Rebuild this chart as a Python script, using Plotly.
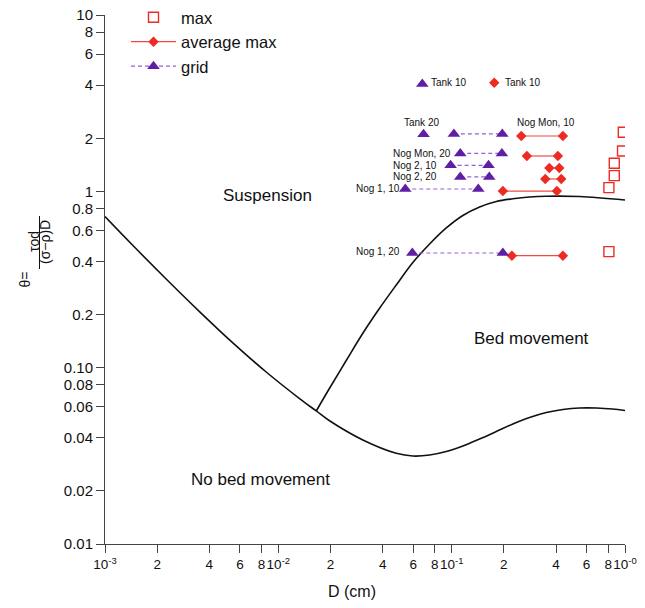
import plotly.graph_objects as go

# ---------------- data ----------------
# threshold-of-motion (Shields-type) curve
shields_D = [0.001, 0.001445, 0.002254, 0.003508, 0.005464, 0.008511, 0.01325, 0.01655,
             0.01974, 0.03073, 0.04789, 0.05972, 0.0746, 0.0931, 0.1160, 0.1449, 0.1809,
             0.2254, 0.2814, 0.3515, 0.4384, 0.547, 0.683, 0.848, 1.0]
shields_theta = [0.719, 0.4943, 0.3184, 0.2080, 0.1382, 0.0945, 0.0668, 0.0568,
                 0.0500, 0.0389, 0.0327, 0.03155, 0.03196, 0.03346, 0.03595, 0.0394, 0.04345,
                 0.04792, 0.05218, 0.0557, 0.05792, 0.05907, 0.05907, 0.0583, 0.05717]

# suspension threshold curve
susp_D = [0.01655, 0.01974, 0.02464, 0.03073, 0.03837, 0.04789, 0.05972, 0.0746, 0.0931,
          0.1160, 0.1449, 0.1809, 0.2254, 0.2814, 0.3515, 0.547, 1.0]
susp_theta = [0.0568, 0.0764, 0.1098, 0.1567, 0.2171, 0.2943, 0.3948, 0.5028, 0.6197,
              0.7295, 0.8151, 0.8758, 0.9072, 0.9288, 0.9384, 0.9348, 0.893]

rows = ["Tank 10", "Tank 20", "Nog Mon, 10", "Nog Mon, 20", "Nog 2, 10", "Nog 2, 20", "Nog 1, 10", "Nog 1, 20"]
grid_lo = [0.0677, 0.0688, 0.1030, 0.1121, 0.0986, 0.1121, 0.0540, 0.0593]
grid_hi = [None, None, 0.1959, 0.1949, 0.1632, 0.1648, 0.1424, 0.1974]
grid_theta = [4.06, 2.11, 2.115, 1.64, 1.405, 1.207, 1.031, 0.447]
avg_lo = [0.1761, None, 0.2521, 0.2716, 0.3659, 0.3468, 0.1974, 0.2225]
avg_hi = [None, None, 0.4384, 0.410, 0.4177, 0.4288, 0.4046, 0.4384]
avg_theta = [4.13, None, 2.06, 1.586, 1.357, 1.175, 1.004, 0.4315]
max_D = [None, None, 0.978, 0.968, 0.8673, 0.8673, 0.8074, 0.8074]
max_theta = [None, None, 2.161, 1.693, 1.442, 1.227, 1.049, 0.4548]

x_tickvals = [0.001, 0.002, 0.004, 0.006, 0.008, 0.01, 0.02, 0.04, 0.06, 0.08, 0.1, 0.2, 0.4, 0.6, 0.8, 1.0]
x_ticktext = ["10<sup>-3</sup>", "2", "4", "6", "8", "10<sup>-2</sup>", "2", "4", "6", "8",
              "10<sup>-1</sup>", "2", "4", "6", "8", "10<sup>-0</sup>"]
y_tickvals = [0.01, 0.02, 0.04, 0.06, 0.08, 0.1, 0.2, 0.4, 0.6, 0.8, 1, 2, 4, 6, 8, 10]
y_ticktext = ["0.01", "0.02", "0.04", "0.06", "0.08", "0.10", "0.2", "0.4", "0.6", "0.8",
              "1", "2", "4", "6", "8", "10"]

# ---------------- layout helpers ----------------
W, H = 645, 608
ML, MR, MT, MB = 105, 20, 15, 64
PW, PH = W - ML - MR, H - MT - MB


def paper(px, py):
    return (px - ML) / PW, (H - MB - py) / PH


def segments(lo, hi, th):
    xs, ys = [], []
    for a, b, t in zip(lo, hi, th):
        if a is None:
            continue
        xs.append(a)
        ys.append(t)
        if b is not None:
            xs.append(b)
            ys.append(t)
        xs.append(None)
        ys.append(None)
    return xs, ys


FONT = "Liberation Sans, Arial, Helvetica, sans-serif"
RED = "#ee2b23"
RED_LINE = "#f04a44"
PURPLE = "#5f1ea3"
PURPLE_LINE = "#9462d6"

fig = go.Figure()

fig.add_trace(go.Scatter(x=shields_D, y=shields_theta, mode="lines", showlegend=False,
                         line=dict(color="#111111", width=1.6, shape="spline", smoothing=1.0),
                         hoverinfo="skip"))
fig.add_trace(go.Scatter(x=susp_D, y=susp_theta, mode="lines", showlegend=False,
                         line=dict(color="#111111", width=1.6, shape="spline", smoothing=1.0),
                         hoverinfo="skip"))

mx, my = segments(max_D, [None] * len(max_D), max_theta)
fig.add_trace(go.Scatter(x=mx, y=my, mode="markers", name="max", legendgroup="a",
                         marker=dict(symbol="square-open", size=10, color=RED, line=dict(width=1.4, color=RED))))
ax, ay = segments(avg_lo, avg_hi, avg_theta)
fig.add_trace(go.Scatter(x=ax, y=ay, mode="lines+markers", name="average max", legendgroup="b",
                         line=dict(color=RED_LINE, width=1.2),
                         marker=dict(symbol="diamond", size=8, color=RED)))
gx, gy = segments(grid_lo, grid_hi, grid_theta)
fig.add_trace(go.Scatter(x=gx, y=gy, mode="lines+markers", name="grid", legendgroup="c",
                         line=dict(color=PURPLE_LINE, width=1.2, dash="4px,3px"),
                         marker=dict(symbol="triangle-up", size=11, color=PURPLE)))

annotations = []
# row labels (text, px, py, xanchor)
row_labels = [
    ("Tank 10", 428.5, 82.7, "left"),
    ("Tank 10", 502.5, 82.7, "left"),
    ("Tank 20", 421.7, 122.3, "center"),
    ("Nog Mon, 10", 546.0, 122.3, "center"),
    ("Nog Mon, 20", 390.7, 153.3, "left"),
    ("Nog 2, 10", 390.7, 166.0, "left"),
    ("Nog 2, 20", 390.7, 176.7, "left"),
    ("Nog 1, 10", 354.0, 188.3, "left"),
    ("Nog 1, 20", 354.0, 251.0, "left"),
]
for t, px, py, anc in row_labels:
    x, y = paper(px, py)
    annotations.append(dict(text=t, x=x, y=y, xref="paper", yref="paper", xanchor=anc, yanchor="middle",
                            showarrow=False, font=dict(family=FONT, size=10, color="#111111")))

region_labels = [("Suspension", 267, 195), ("Bed movement", 531, 338), ("No bed movement", 260.5, 479)]
for t, px, py in region_labels:
    x, y = paper(px, py)
    annotations.append(dict(text=t, x=x, y=y, xref="paper", yref="paper", xanchor="center", yanchor="middle",
                            showarrow=False, font=dict(family=FONT, size=17, color="#111111")))

# x-axis title
x, y = paper(352, 591)
annotations.append(dict(text="D (cm)", x=x, y=y, xref="paper", yref="paper", xanchor="center",
                        yanchor="middle", showarrow=False, font=dict(family=FONT, size=16, color="#111111")))

# y-axis title built as a rotated fraction
for t, px, py in [("θ=", 24.5, 280), ("τod", 34.0, 242), ("(σ−ρ)D", 45, 242)]:
    x, y = paper(px, py)
    annotations.append(dict(text=t, x=x, y=y, xref="paper", yref="paper", xanchor="center",
                            yanchor="middle", textangle=-90, showarrow=False,
                            font=dict(family=FONT, size=14, color="#111111")))
bx, by0 = paper(39.5, 216)
_, by1 = paper(39.5, 269)
shapes = [dict(type="line", xref="paper", yref="paper", x0=bx, x1=bx, y0=by0, y1=by1,
               line=dict(color="#111111", width=1))]

lx, ly = paper(126, 0)
fig.update_layout(
    width=W, height=H,
    margin=dict(l=ML, r=MR, t=MT, b=MB, autoexpand=False),
    paper_bgcolor="white", plot_bgcolor="white",
    font=dict(family=FONT, size=16, color="#111111"),
    annotations=annotations, shapes=shapes,
    showlegend=True,
    legend=dict(x=lx, y=ly, xanchor="left", yanchor="top", bgcolor="rgba(0,0,0,0)",
                font=dict(family=FONT, size=16.5, color="#111111"), tracegroupgap=3,
                itemwidth=45, traceorder="normal"),
    xaxis=dict(type="log", range=[-3, 0], tickvals=x_tickvals, ticktext=x_ticktext, tickangle=0,
               ticks="outside", ticklen=8, tickcolor="#444444", showline=True, linecolor="#444444",
               linewidth=1, showgrid=False, zeroline=False, tickfont=dict(family=FONT, size=13.5),
               ticklabeloverflow="allow", mirror=False),
    yaxis=dict(type="log", range=[-2, 1], tickvals=y_tickvals, ticktext=y_ticktext,
               ticks="outside", ticklen=8, tickcolor="#444444", showline=True, linecolor="#444444",
               linewidth=1, showgrid=False, zeroline=False, tickfont=dict(family=FONT, size=15),
               ticklabeloverflow="allow", mirror=False),
)

fig.write_html("out.html")
